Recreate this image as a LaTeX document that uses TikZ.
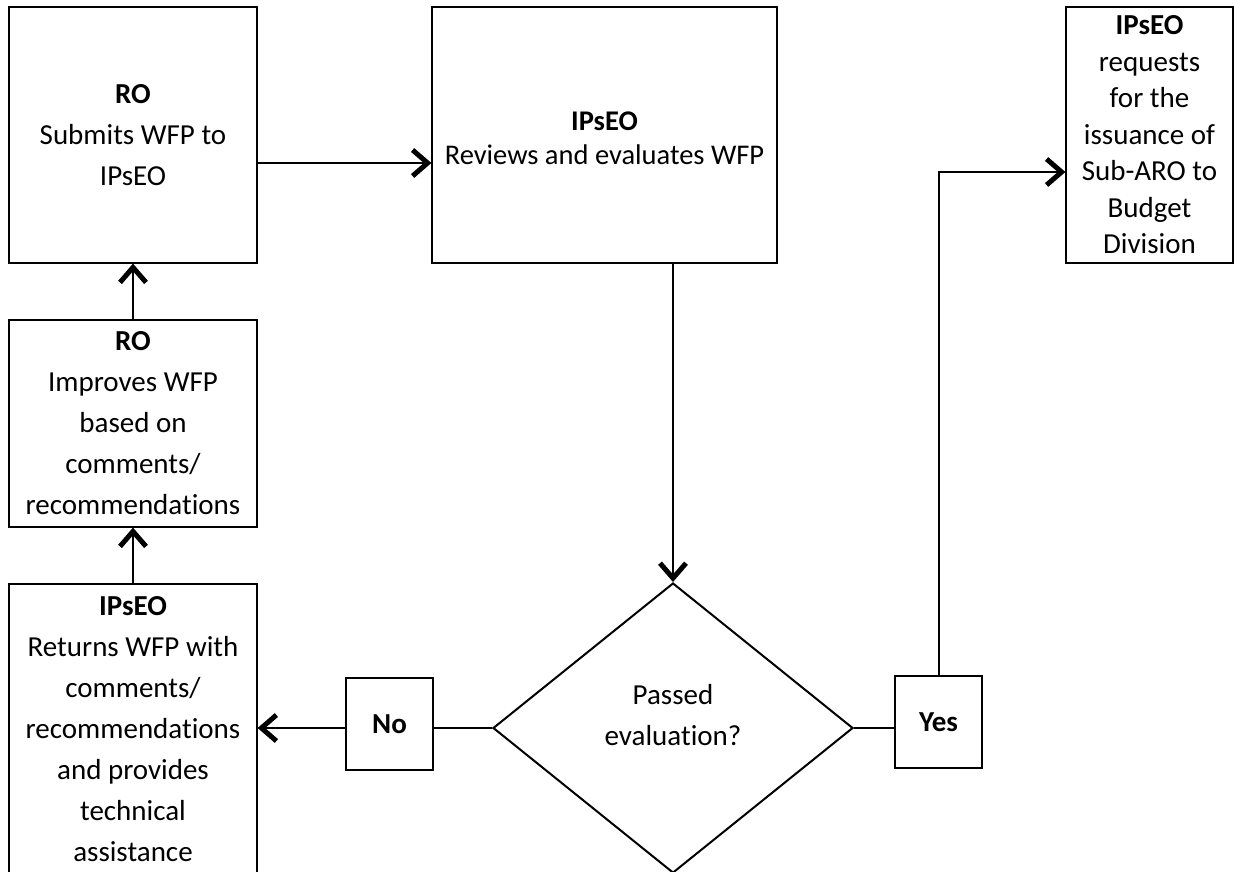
\documentclass[tikz,border=0pt]{standalone}
\usepackage{fontspec}
\setmainfont{Carlito}[RawFeature={-liga;-clig;-calt;-dlig}]
\usetikzlibrary{arrows.meta,shapes.geometric}
\begin{document}
\begin{tikzpicture}[x=1pt,y=-1pt,
  proc/.style={draw, line width=1.2pt, inner sep=0pt, align=center, font=\fontsize{29}{41}\selectfont},
  txt/.style={inner sep=0pt, align=center, font=\fontsize{29}{41}\selectfont},
  conn/.style={line width=2pt},
  arr/.style={conn, -{Straight Barb[length=15pt,width=26pt,line width=5pt]}}]
\useasboundingbox (0,0) rectangle (1234,872);
\clip (0,0) rectangle (1234,872);
% boxes
\node[proc, minimum width=248pt, minimum height=256pt] (submit) at (133,135) {\textbf{RO}\\Submits WFP to\\IPsEO};
\node[proc, minimum width=345pt, minimum height=256pt] (reviews) at (604.5,135) {};
\node[txt, font=\fontsize{28.5}{34}\selectfont] (reviewstext) at (604.5,138) {\textbf{IPsEO}\\Reviews and evaluates WFP};
\node[proc, minimum width=167pt, minimum height=256pt, font=\fontsize{29}{36.5}\selectfont] (requests) at (1149.5,135) {\textbf{IPsEO}\\requests\\for the\\issuance of\\Sub-ARO to\\Budget\\Division};
\node[proc, minimum width=248pt, minimum height=207pt] (improves) at (133,423.5) {\textbf{RO}\\Improves WFP\\based on\\comments/\\recommendations};
\node[proc, minimum width=248pt, minimum height=311pt] (returns) at (133,739.5) {};
\node[txt] (returnstext) at (133,729) {\textbf{IPsEO}\\Returns WFP with\\comments/\\recommendations\\and provides\\technical\\assistance};
\node[diamond, draw, line width=2pt, minimum width=360pt, minimum height=290pt, inner sep=0pt] (dec) at (673,728) {};
\node[txt] (dectext) at (673,715) {Passed\\evaluation?};
\node[proc, minimum width=87pt, minimum height=92pt] (no) at (389.5,724) {\textbf{No}};
\node[proc, minimum width=87pt, minimum height=92pt] (yes) at (938.5,722) {\textbf{Yes}};
% connectors
\coordinate (h1) at (0,163);
\coordinate (h3) at (0,172);
\draw[arr] (submit.east |- h1) -- (reviews.west |- h1);
\draw[arr] (improves.north) -- (submit.south);
\draw[arr] (returns.north) -- (improves.south);
\draw[arr] (dec.north |- reviews.south) -- (dec.north);
\draw[conn] (dec.west) -- (no.east |- dec.west);
\draw[arr] (no.west |- dec.west) -- (returns.east |- dec.west);
\draw[conn] (dec.east) -- (yes.west |- dec.east);
\draw[arr] (yes.north) |- (requests.west |- h3);
\end{tikzpicture}
\end{document}
